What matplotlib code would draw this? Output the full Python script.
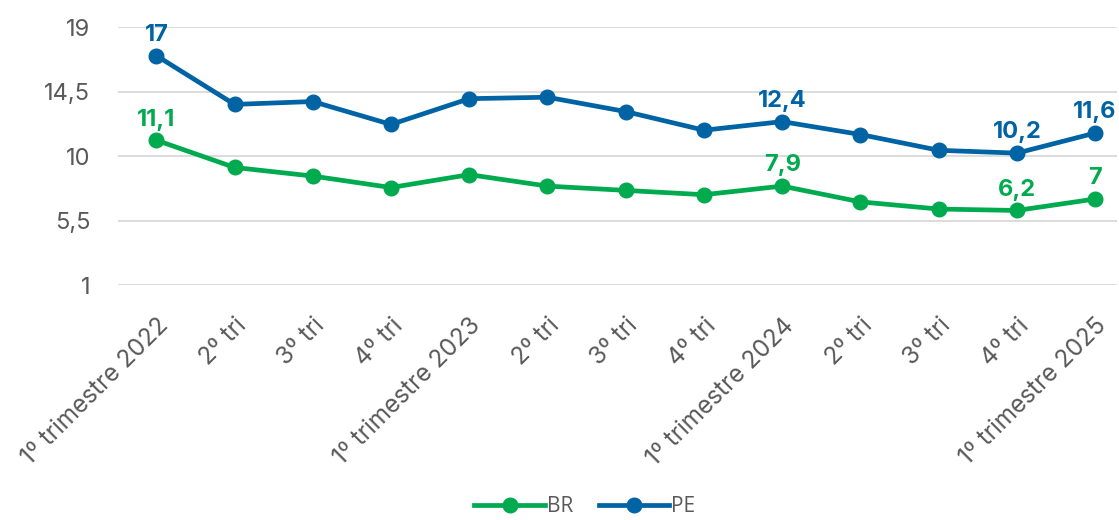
import matplotlib
matplotlib.use("Agg")
import matplotlib.pyplot as plt

categories = ["1º trimestre 2022", "2º tri", "3º tri", "4º tri",
              "1º trimestre 2023", "2º tri", "3º tri", "4º tri",
              "1º trimestre 2024", "2º tri", "3º tri", "4º tri",
              "1º trimestre 2025"]
br = [11.1, 9.2, 8.6, 7.8, 8.7, 7.9, 7.6, 7.3, 7.9, 6.8, 6.3, 6.2, 7.0]
pe = [17.0, 13.6, 13.8, 12.2, 14.0, 14.1, 13.1, 11.8, 12.4, 11.5, 10.4, 10.2, 11.6]
labeled = [0, 8, 11, 12]
yticks = [1, 5.5, 10, 14.5, 19]
ytick_labels = ["1", "5,5", "10", "14,5", "19"]

GREEN = "#00AA4F"
BLUE = "#0063A3"
TXT = "#595959"

plt.rcParams['font.family'] = ['Inter', 'DejaVu Sans']

fig = plt.figure(figsize=(11.19, 5.20), dpi=100)
ax = fig.add_axes([118/1119, 1-285/520, (1117-118)/1119, (285-27)/520])

x = list(range(len(categories)))
ax.plot(x, br, color=GREEN, lw=3.4, marker='o', ms=10.5, label='BR', zorder=3)
ax.plot(x, pe, color=BLUE, lw=3.4, marker='o', ms=10.5, label='PE', zorder=3)

def fmt(v):
    s = f"{v:.1f}".replace('.', ',')
    if s.endswith(',0'):
        s = s[:-2]
    return s

for i in labeled:
    ax.annotate(fmt(br[i]), (i, br[i]), xytext=(0, 7), textcoords='offset points',
                ha='center', va='bottom', color=GREEN, fontsize=17, fontweight='bold')
    ax.annotate(fmt(pe[i]), (i, pe[i]), xytext=(0, 7), textcoords='offset points',
                ha='center', va='bottom', color=BLUE, fontsize=17, fontweight='bold')

ax.set_xlim(-0.49, 12.28)
ax.set_ylim(1, 19)
ax.set_yticks(yticks)
ax.set_yticklabels(ytick_labels, color=TXT, fontsize=17)
ax.set_xticks(x)
ax.set_xticklabels(categories, rotation=45, ha='right', rotation_mode='anchor',
                   color=TXT, fontsize=17.5)
ax.tick_params(axis='y', length=0, pad=20)
ax.tick_params(axis='x', length=0, pad=21)
ax.grid(axis='y', color='#D9D9D9', lw=1.3)
ax.set_axisbelow(True)
for s in ax.spines.values():
    s.set_visible(False)

leg = fig.legend(loc='center', bbox_to_anchor=(585/1119, 1-507/520), ncol=2, frameon=False,
                 handlelength=3.4, columnspacing=1.2, handletextpad=0.1,
                 prop={'family': ['Open Sans', 'DejaVu Sans'], 'size': 15})
for t in leg.get_texts():
    t.set_color(TXT)

fig.savefig("out.png", dpi=100)
